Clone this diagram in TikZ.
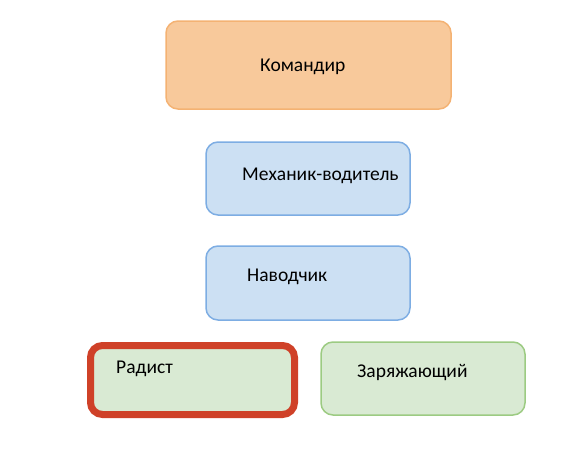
\documentclass[tikz,border=0pt]{standalone}
\usepackage{fontspec}
\setmainfont{Carlito}
\definecolor{orfill}{HTML}{F8C99B}
\definecolor{ordraw}{HTML}{F4B273}
\definecolor{blfill}{HTML}{CCE0F3}
\definecolor{bldraw}{HTML}{7DADE3}
\definecolor{grfill}{HTML}{D9EAD3}
\definecolor{grdraw}{HTML}{9CCB82}
\definecolor{reddraw}{HTML}{CF4128}
\begin{document}
\begin{tikzpicture}[x=1pt,y=-1pt,
  box/.style={draw, line width=1.5pt, rounded corners=12pt},
  lbl/.style={font=\fontsize{19.5}{23}\selectfont, inner sep=0pt, anchor=west}]
\useasboundingbox (0,0) rectangle (584,464);
\draw[box, fill=orfill, draw=ordraw] (166,21) rectangle (451,109);
\node[lbl] (t1) at (260,67) {Командир};
\draw[box, fill=blfill, draw=bldraw] (206,142) rectangle (410,215);
\node[lbl] (t2) at (242,176) {Механик-водитель};
\draw[box, fill=blfill, draw=bldraw] (206,246) rectangle (410,320);
\node[lbl] (t3) at (247,277) {Наводчик};
\draw[box, fill=grfill, draw=reddraw, line width=7pt] (90.5,345.5) rectangle (294.5,414.5);
\node[lbl] (t4) at (116,369) {Радист};
\draw[box, fill=grfill, draw=grdraw] (321,342) rectangle (525,415);
\node[lbl] (t5) at (357,373) {Заряжающий};
\end{tikzpicture}
\end{document}
